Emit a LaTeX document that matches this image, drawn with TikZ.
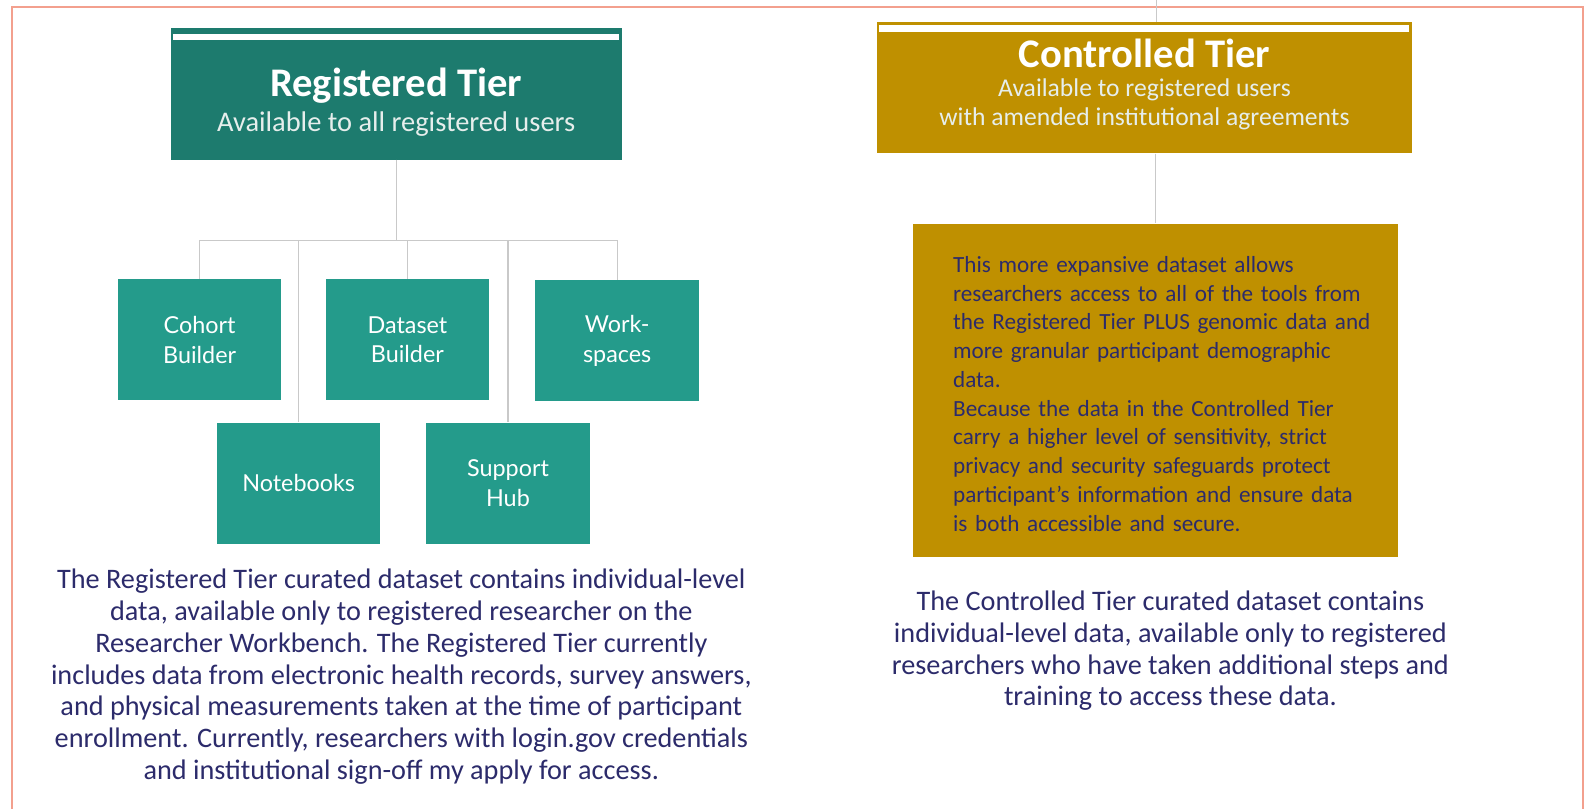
\documentclass[tikz,border=0pt]{standalone}
\usepackage{fontspec}
\setmainfont{Carlito}
\newfontfamily\toolfont{Lato}
\usetikzlibrary{calc}
\definecolor{regdark}{HTML}{1D7B6E}
\definecolor{toolteal}{HTML}{249B8B}
\definecolor{ctrlgold}{HTML}{BF9000}
\definecolor{navytext}{HTML}{2C2B6B}
\definecolor{framered}{HTML}{F3A08E}
\definecolor{linegray}{HTML}{C9C9C9}
\definecolor{subwhite}{HTML}{E6EEEC}

\begin{document}
\begin{tikzpicture}
  [x=1pt,y=-1pt,every node/.style={inner sep=0pt},
   tierhead/.style={minimum height=129pt},
   headtitle/.style={text=white,font=\fontsize{40}{46}\selectfont\bfseries},
   headsub/.style={text=subwhite},
   tool/.style={fill=toolteal,minimum width=161pt,minimum height=119pt,text=white,align=center,font=\toolfont\fontsize{23}{29}\selectfont},
   note/.style={text=navytext,align=center,font=\fontsize{27.8}{31.3}\selectfont},
   conn/.style={draw=linegray,line width=1.2pt}]
  \useasboundingbox (0,0) rectangle (1568,796);
  \clip (0,0) rectangle (1568,796);
  \fill[white] (0,0) rectangle (1568,796);
  \draw[framered,line width=1.5pt] (12,820) -- (12,7) -- (1558,7) -- (1558,820);

  % registered tier
  \node[tierhead,fill=regdark,minimum width=444pt] (reg) at (390,92.5) {};
  \fill[white] ($(reg.north west)+(2,6)$) rectangle ($(reg.north east)+(-3,12)$);
  \node[headtitle] (regtitle) at (390,84) {Registered Tier};
  \node[headsub,font=\fontsize{28}{32}\selectfont] (regsub) at (390,122) {Available to all registered users};

  \node[tool] (cohort) at (196.5,334.5) {Cohort\\Builder};
  \node[tool] (dataset) at (401,334.5) {Dataset\\Builder};
  \node[tool] (workspaces) at (607.5,335.5) {Work-\\spaces};
  \node[tool] (notebooks) at (294,475.5) {Notebooks};
  \node[tool] (support) at (500,475.5) {Support\\Hub};

  \coordinate (bar) at (390,237);
  \draw[conn] (reg.south) -- (bar);
  \foreach \to in {cohort,notebooks,dataset,support,workspaces}
    \draw[conn] (bar) -| (\to.north);

  \node[note] (regnote) at (395,666)
    {The Registered Tier curated dataset contains individual-level\\
     data, available only to registered researcher on the\\
     Researcher Workbench. The Registered Tier currently\\
     includes data from electronic health records, survey answers,\\
     and physical measurements taken at the time of participant\\
     enrollment. Currently, researchers with login.gov credentials\\
     and institutional sign-off my apply for access.};

  % controlled tier
  \node[tierhead,fill=ctrlgold,minimum width=527pt] (ctrl) at (1126.5,86.5) {};
  \fill[white] ($(ctrl.north west)+(2,3)$) rectangle ($(ctrl.north east)+(-3,10)$);
  \node[headtitle] (ctrltitle) at (1126.5,53) {Controlled Tier};
  \node[headsub,align=center,font=\fontsize{25.2}{29}\selectfont] (ctrlsub) at (1126.5,102.5)
    {Available to registered users\\with amended institutional agreements};

  \node[fill=ctrlgold,minimum width=477pt,minimum height=328pt] (ctrlbody) at (1137.5,384) {};
  \node[anchor=north west,text=navytext,align=left,text width=420pt,
        font=\fontsize{22.8}{28.3}\selectfont] (ctrltext) at (938,252)
    {This more expansive dataset allows\\
     researchers access to all of the tools from\\
     the Registered Tier PLUS genomic data and\\
     more granular participant demographic\\
     data.\\
     Because the data in the Controlled Tier\\
     carry a higher level of sensitivity, strict\\
     privacy and security safeguards protect\\
     participant’s information and ensure data\\
     is both accessible and secure.};

  \coordinate (stub) at (1138,0);
  \draw[conn] (stub) -- (stub |- ctrl.north);
  \draw[conn] (ctrl.south -| ctrlbody.north) -- (ctrlbody.north);

  \node[note] (ctrlnote) at (1152,640.5)
    {The Controlled Tier curated dataset contains\\
     individual-level data, available only to registered\\
     researchers who have taken additional steps and\\
     training to access these data.};
\end{tikzpicture}
\end{document}
